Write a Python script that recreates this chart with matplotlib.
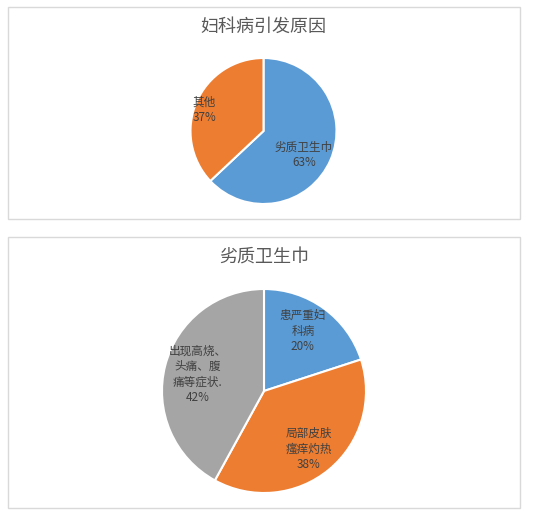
import numpy as np
import matplotlib
matplotlib.use("Agg")
import matplotlib.pyplot as plt
from matplotlib.patches import Rectangle

plt.rcParams['font.family'] = ['Noto Sans CJK SC', 'DejaVu Sans']

# ---- data ----
top_title = "妇科病引发原因"
top_labels = ["劣质卫生巾", "其他"]
top_values = [63, 37]

bot_title = "劣质卫生巾"
bot_labels = ["患严重妇\n科病", "局部皮肤\n瘙痒灼热", "出现高烧、\n头痛、腹\n痛等症状."]
bot_values = [20, 38, 42]

# ---- styles ----
blue, orange, gray = "#5B9BD5", "#ED7D31", "#A5A5A5"
top_colors = [blue, orange]
bot_colors = [blue, orange, gray]
top_lab_pos = [(0.64, -7), (0.86, 4)]      # (distance, angle offset in deg)
bot_lab_pos = [(0.70, 3), (0.72, -2), (0.67, 0.5)]
W, H = 541, 515

fig = plt.figure(figsize=(W / 100, H / 100), dpi=100)
fig.patch.set_facecolor("white")

def fbox(x0, y0, x1, y1):
    return (x0 / W, 1 - y1 / H, (x1 - x0) / W, (y1 - y0) / H)

for (x0, y0, x1, y1) in [(8, 7, 520, 219), (8, 237, 520, 508)]:
    l, b, w, h = fbox(x0, y0, x1, y1)
    fig.patches.append(Rectangle((l, b), w, h, transform=fig.transFigure,
                                 fill=False, edgecolor="#D9D9D9", linewidth=1.0))

def draw_pie(cx, cy, r, values, labels, colors, labpos, title, ty):
    ax = fig.add_axes(fbox(cx - r, cy - r, cx + r, cy + r))
    wedges, _ = ax.pie(values, colors=colors, startangle=90, counterclock=False,
                       wedgeprops=dict(edgecolor="white", linewidth=1.5))
    ax.set_xlim(-1, 1)
    ax.set_ylim(-1, 1)
    ax.axis("off")
    total = sum(values)
    for w, lab, v, (d, off) in zip(wedges, labels, values, labpos):
        ang = np.deg2rad((w.theta1 + w.theta2) / 2 + off)
        ax.text(d * np.cos(ang), d * np.sin(ang), f"{lab}\n{round(100 * v / total)}%",
                ha="center", va="center", fontsize=8.4, color="#404040",
                linespacing=1.25)
    fig.text(cx / W, 1 - ty / H, title, ha="center", va="center",
             fontsize=13, color="#595959", fontweight="light")

draw_pie(263.5, 131, 73, top_values, top_labels, top_colors, top_lab_pos, top_title, 27)
draw_pie(264, 391, 102, bot_values, bot_labels, bot_colors, bot_lab_pos, bot_title, 258)

fig.savefig("out.png", dpi=100, facecolor="white")
